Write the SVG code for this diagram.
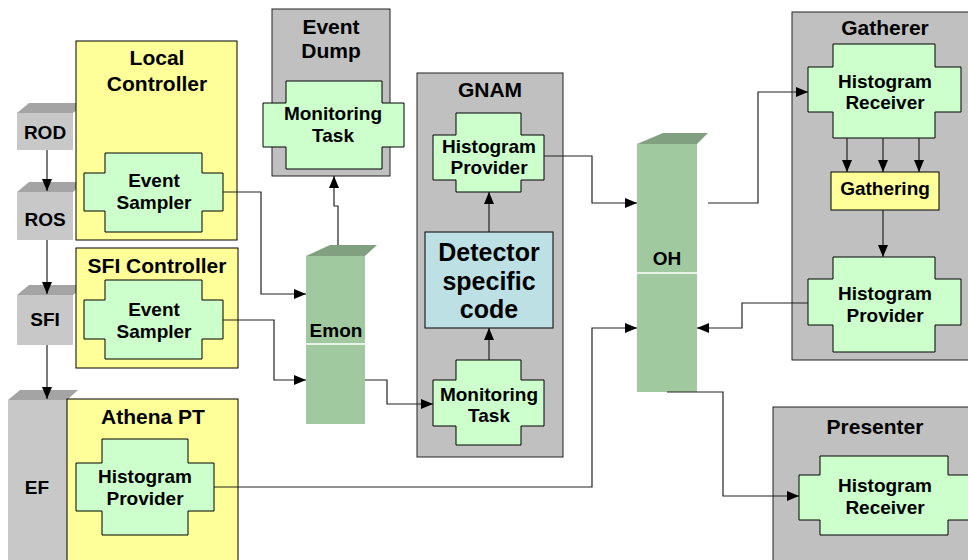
<svg xmlns="http://www.w3.org/2000/svg" width="968" height="560" viewBox="0 0 968 560">
<defs>
<marker id="ah" markerWidth="13" markerHeight="11" refX="12" refY="5" orient="auto" markerUnits="userSpaceOnUse"><path d="M0,0 L12,5 L0,10 z" fill="#000"/></marker>
<style>
.t{font-family:"Liberation Sans",Arial,sans-serif;font-weight:bold;fill:#000;text-anchor:middle}
.ttl{font-size:21px}
.lbl{font-size:19px}
.big{font-size:25px}
.yel{fill:#ffff99;stroke:#000;stroke-width:1}
.gry{fill:#c0c0c0;stroke:#222;stroke-width:1}
.crs{fill:#ccffcc;stroke:#000;stroke-width:1}
.blkF{fill:#c8c8c8}
.blkT{fill:#a4a4a4}
.colF{fill:#a0c9a0}
.colT{fill:#80a080}
.div{stroke:#fff;stroke-width:1.5}
.cn{fill:none;stroke:#222;stroke-width:1.2}
</style>
</defs>
<rect width="968" height="560" fill="#fff"/>

<g id="ROD"><polygon class="blkT" points="17,113 29,103 85,103 73,113"/><rect class="blkF" x="17" y="113" width="56" height="37"/><text class="t lbl" x="45" y="139">ROD</text></g>
<g id="ROS"><polygon class="blkT" points="17,192 29,182 85,182 73,192"/><rect class="blkF" x="17" y="192" width="56" height="48"/><text class="t lbl" x="45" y="226">ROS</text></g>
<g id="SFI"><polygon class="blkT" points="17,295 29,285 85,285 73,295"/><rect class="blkF" x="17" y="295" width="56" height="50"/><text class="t lbl" x="45" y="326">SFI</text></g>
<g id="EF"><polygon class="blkT" points="8,400 20,390 78,390 67,400"/><rect class="blkF" x="8" y="400" width="59" height="160"/><text class="t lbl" x="37" y="494">EF</text></g>

<g id="LocalController"><rect class="yel" x="76" y="41" width="161" height="199"/><text class="t ttl" x="157" y="65">Local</text><text class="t ttl" x="157" y="91">Controller</text>
<polygon class="crs" points="105,153 202,153 202,173 223,173 223,211 202,211 202,232 105,232 105,211 84,211 84,173 105,173"/><text class="t lbl" x="154" y="187">Event</text><text class="t lbl" x="154" y="209">Sampler</text></g>

<g id="SFIController"><rect class="yel" x="76" y="248" width="162" height="120"/><text class="t ttl" x="157" y="273">SFI Controller</text>
<polygon class="crs" points="105,280 202,280 202,300 223,300 223,339 202,339 202,359 105,359 105,339 84,339 84,300 105,300"/><text class="t lbl" x="154" y="316">Event</text><text class="t lbl" x="154" y="338">Sampler</text></g>

<g id="AthenaPT"><rect class="yel" x="67" y="399" width="171" height="165"/><text class="t ttl" x="153" y="424">Athena PT</text>
<polygon class="crs" points="102,439 188,439 188,463 214,463 214,511 188,511 188,535 102,535 102,511 76,511 76,463 102,463"/><text class="t lbl" x="145" y="483">Histogram</text><text class="t lbl" x="145" y="505">Provider</text></g>

<g id="EventDump"><rect class="gry" x="272" y="9" width="118" height="167"/><text class="t ttl" x="331" y="34">Event</text><text class="t ttl" x="331" y="58">Dump</text>
<polygon class="crs" points="286,81 382,81 382,103 404,103 404,147 382,147 382,169 286,169 286,147 263,147 263,103 286,103"/><text class="t lbl" x="333" y="120">Monitoring</text><text class="t lbl" x="333" y="142">Task</text></g>

<g id="Emon"><polygon class="colT" points="306,256 330,245 377,245 365,256"/><rect class="colF" x="306" y="256" width="59" height="168"/><line class="div" x1="306" y1="344" x2="365" y2="344"/><text class="t lbl" x="336" y="337">Emon</text></g>

<g id="GNAM"><rect class="gry" x="417" y="73" width="146" height="384"/><text class="t ttl" x="490" y="97">GNAM</text>
<g id="GNAM_HP"><polygon class="crs" points="456,113 521,113 521,135 544,135 544,180 521,180 521,192 456,192 456,180 433,180 433,135 456,135"/><text class="t lbl" x="489" y="153">Histogram</text><text class="t lbl" x="489" y="174">Provider</text></g>
<g id="Detector"><rect x="425" y="232" width="128" height="96" fill="#bde0e5" stroke="#000"/><text class="t big" x="489" y="261">Detector</text><text class="t big" x="489" y="290">specific</text><text class="t big" x="489" y="318">code</text></g>
<g id="GNAM_MT"><polygon class="crs" points="456,360 521,360 521,380 544,380 544,426 521,426 521,445 456,445 456,426 433,426 433,380 456,380"/><text class="t lbl" x="489" y="401">Monitoring</text><text class="t lbl" x="489" y="422">Task</text></g>
</g>

<g id="OH"><polygon class="colT" points="637,144 663,133 708,133 697,144"/><rect class="colF" x="637" y="144" width="60" height="248"/><line class="div" x1="637" y1="273" x2="697" y2="273"/><text class="t lbl" x="667" y="265">OH</text></g>

<g id="Gatherer"><rect class="gry" x="792" y="12" width="180" height="348"/><text class="t ttl" x="885" y="35">Gatherer</text>
<g id="Gatherer_HR"><polygon class="crs" points="833,44 935,44 935,67 961,67 961,112 935,112 935,138 833,138 833,112 808,112 808,67 833,67"/><text class="t lbl" x="885" y="88">Histogram</text><text class="t lbl" x="885" y="109">Receiver</text></g>
<g id="Gathering"><rect class="yel" x="831" y="172" width="108" height="38"/><text class="t lbl" x="885" y="195">Gathering</text></g>
<g id="Gatherer_HP"><polygon class="crs" points="833,257 935,257 935,279 961,279 961,325 935,325 935,352 833,352 833,325 808,325 808,279 833,279"/><text class="t lbl" x="885" y="300">Histogram</text><text class="t lbl" x="885" y="322">Provider</text></g>
</g>

<g id="Presenter"><rect class="gry" x="773" y="407" width="200" height="160"/><text class="t ttl" x="875" y="434">Presenter</text>
<polygon class="crs" points="820,456 948,456 948,475 975,475 975,520 948,520 948,535 820,535 820,520 799,520 799,475 820,475"/><text class="t lbl" x="885" y="492">Histogram</text><text class="t lbl" x="885" y="514">Receiver</text></g>

<g id="connectors">
<path class="cn" marker-end="url(#ah)" d="M47,150 V191"/>
<path class="cn" marker-end="url(#ah)" d="M47,240 V294"/>
<path class="cn" marker-end="url(#ah)" d="M47,345 V399"/>
<path class="cn" marker-end="url(#ah)" d="M223,192 H261 V294 H306"/>
<path class="cn" marker-end="url(#ah)" d="M223,320 H274 V380 H306"/>
<path class="cn" marker-end="url(#ah)" d="M338,245 V206 H334 V176"/>
<path class="cn" marker-end="url(#ah)" d="M365,380 H387 V404 H433"/>
<path class="cn" marker-end="url(#ah)" d="M489,232 V192"/>
<path class="cn" marker-end="url(#ah)" d="M489,360 V328"/>
<path class="cn" marker-end="url(#ah)" d="M544,156 H592 V203 H637"/>
<path class="cn" marker-end="url(#ah)" d="M214,487 H592 V328 H637"/>
<path class="cn" marker-end="url(#ah)" d="M708,203 H758 V92 H808"/>
<path class="cn" marker-end="url(#ah)" d="M847,138 V172"/>
<path class="cn" marker-end="url(#ah)" d="M883,138 V172"/>
<path class="cn" marker-end="url(#ah)" d="M919,138 V172"/>
<path class="cn" marker-end="url(#ah)" d="M883,210 V257"/>
<path class="cn" marker-end="url(#ah)" d="M808,303 H742 V328 H697"/>
<path class="cn" marker-end="url(#ah)" d="M667,392 H723 V496 H799"/>
</g>
</svg>
